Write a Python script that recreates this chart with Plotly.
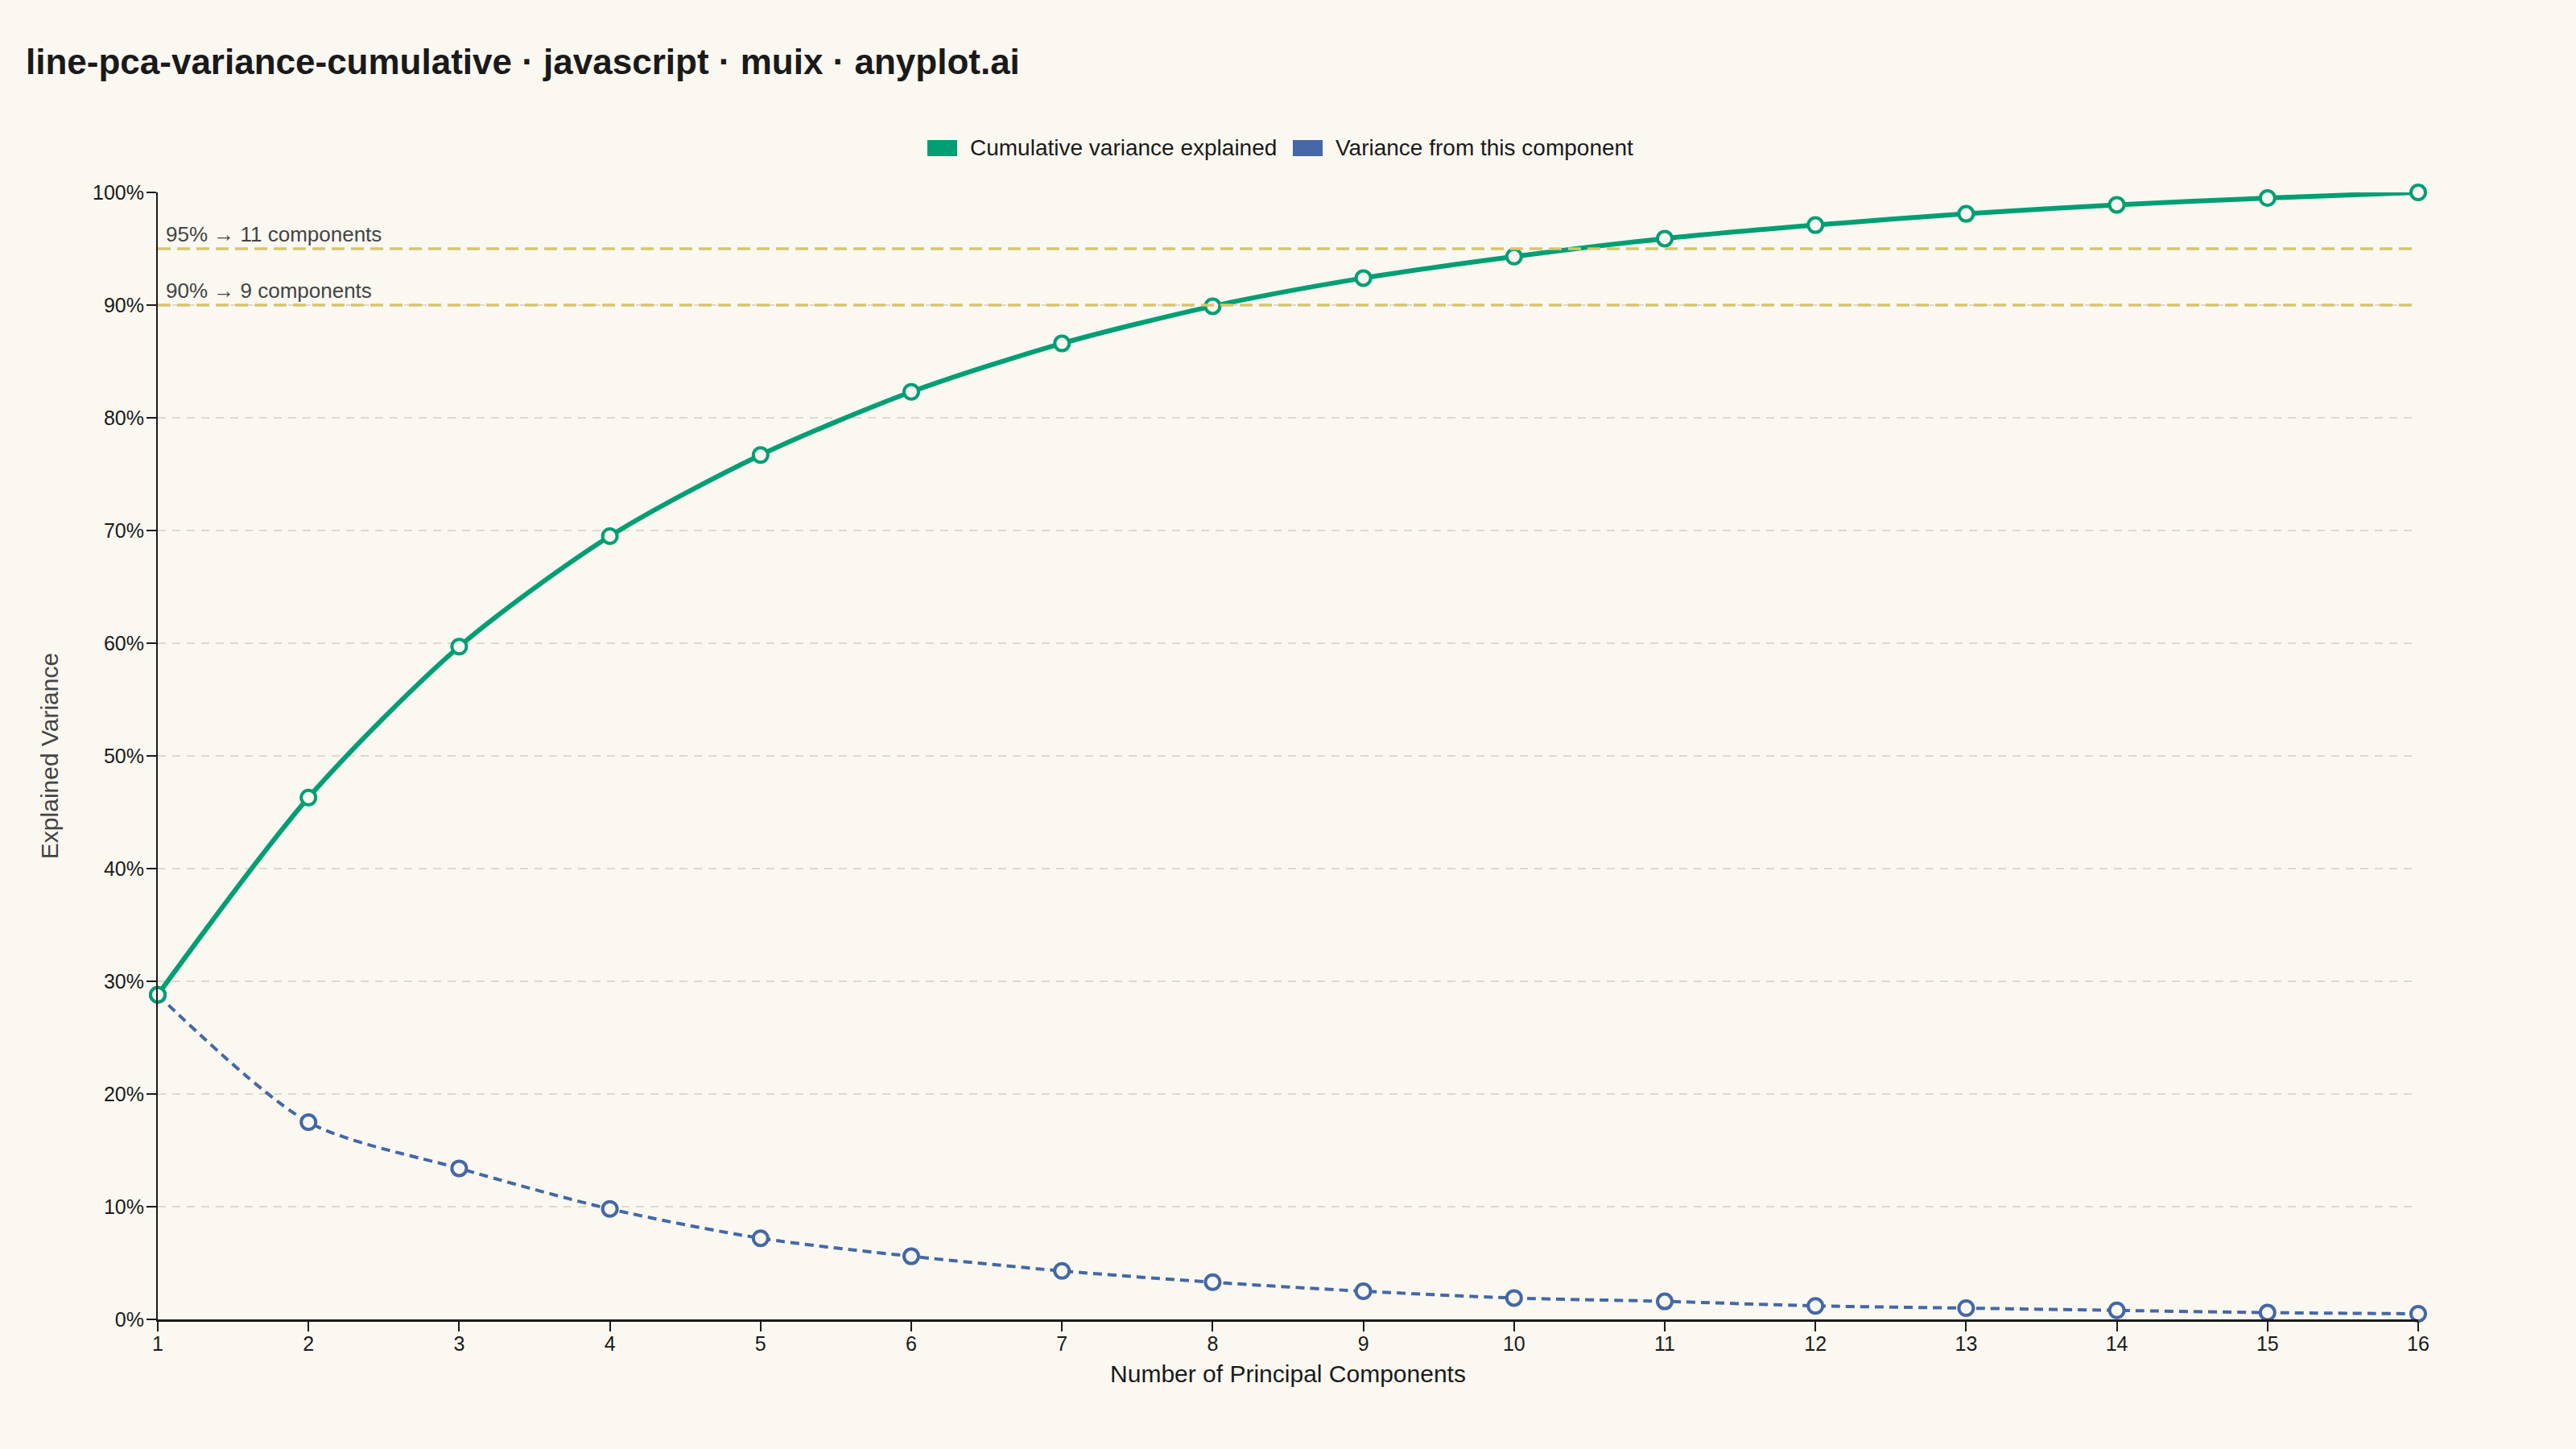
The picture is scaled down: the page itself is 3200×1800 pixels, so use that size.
import plotly.graph_objects as go

# PCA explained variance (percent)
components = list(range(1, 17))
variance_pct = [28.8, 17.5, 13.4, 9.8, 7.2, 5.6, 4.3, 3.3, 2.5, 1.9, 1.6, 1.2, 1.0, 0.8, 0.6, 0.5]
cumulative_pct = [28.8, 46.3, 59.7, 69.5, 76.7, 82.3, 86.6, 89.9, 92.4, 94.3, 95.9, 97.1, 98.1, 98.9, 99.5, 100.0]
threshold_levels = [95, 90]
threshold_labels = ["95% \u2192 11 components", "90% \u2192 9 components"]
legend_names = ["Cumulative variance explained", "Variance from this component"]
y_ticks = list(range(0, 101, 10))
y_tick_labels = [f"{v}%" for v in y_ticks]

W, H = 3200, 1800
ML, MR, MT, MB = 196, 196, 239, 161
BG = "#FAF8F1"
GREEN = "#009E73"
BLUE = "#4467A6"
GOLD = "#D9C46C"
INK = "#1a1a1a"
FONT = "Liberation Sans, Arial, sans-serif"


def px_x(p):
    # page pixel -> paper x
    return (p - ML) / (W - ML - MR)


def px_y(p):
    # page pixel -> paper y
    return 1 - (p - MT) / (H - MT - MB)


fig = go.Figure()

# threshold reference lines
for lvl, lab in zip(threshold_levels, threshold_labels):
    fig.add_shape(type="line", xref="x", yref="y", x0=components[0], x1=components[-1],
                  y0=lvl, y1=lvl, line=dict(color=GOLD, width=3.5, dash="16px,8px"))
    fig.add_annotation(x=components[0], y=lvl, xref="x", yref="y", text=lab, showarrow=False,
                       xanchor="left", yanchor="bottom", xshift=8, yshift=1,
                       font=dict(size=26, color="#444444", family=FONT))

fig.add_trace(go.Scatter(
    x=components, y=variance_pct, mode="lines+markers", name=legend_names[1],
    line=dict(color=BLUE, width=4, dash="11px,7px", shape="spline", smoothing=0.8),
    marker=dict(size=18, color=BG, line=dict(color=BLUE, width=4)),
    cliponaxis=False, showlegend=False, hovertemplate="PC %{x}: %{y:.1f}%<extra></extra>",
))
fig.add_trace(go.Scatter(
    x=components, y=cumulative_pct, mode="lines+markers", name=legend_names[0],
    line=dict(color=GREEN, width=6, shape="spline", smoothing=0.8),
    marker=dict(size=18, color=BG, line=dict(color=GREEN, width=4)),
    cliponaxis=False, showlegend=False, hovertemplate="%{x} PCs: %{y:.1f}%<extra></extra>",
))

# legend: solid rectangular swatches above the plot, centred
legend_items = [(legend_names[0], GREEN, 1152), (legend_names[1], BLUE, 1606)]
for name, col, left in legend_items:
    fig.add_shape(type="rect", xref="paper", yref="paper",
                  x0=px_x(left), x1=px_x(left + 37), y0=px_y(194), y1=px_y(174),
                  fillcolor=col, line=dict(width=0))
    fig.add_annotation(x=px_x(left + 51), y=px_y(184), xref="paper", yref="paper", text=name,
                       showarrow=False, xanchor="left", yanchor="middle",
                       font=dict(size=28, color=INK, family=FONT))

fig.update_layout(
    width=W, height=H,
    paper_bgcolor=BG, plot_bgcolor=BG,
    font=dict(family=FONT, color=INK, size=24),
    margin=dict(l=ML, r=MR, t=MT, b=MB),
    showlegend=False,
    title=dict(text="<b>line-pca-variance-cumulative \u00b7 javascript \u00b7 muix \u00b7 anyplot.ai</b>",
               x=32 / W, xanchor="left", xref="container",
               y=1 - 77 / H, yanchor="middle", yref="container",
               font=dict(size=44, color=INK, family=FONT)),
    xaxis=dict(range=[1, 16], tickvals=components, showgrid=False, zeroline=False,
               showline=True, linecolor=INK, linewidth=3,
               ticks="outside", ticklen=12, tickwidth=2, tickcolor=INK,
               tickfont=dict(size=25, color=INK), ticklabelstandoff=-6,
               title=dict(text="Number of Principal Components", standoff=14,
                          font=dict(size=30, color=INK))),
    yaxis=dict(range=[0, 100], tickvals=y_ticks, ticktext=y_tick_labels,
               showgrid=True, gridcolor="#DCD9D2", gridwidth=2, griddash="10px,8px",
               zeroline=False, showline=True, linecolor=INK, linewidth=2,
               ticks="outside", ticklen=12, tickwidth=2, tickcolor=INK,
               tickfont=dict(size=25, color=INK), ticklabelstandoff=-2,
               title=dict(text="Explained Variance", standoff=34,
                          font=dict(size=30, color="#444444"))),
)

fig.write_html("out.html", config={"displayModeBar": False},
               post_script="document.body.style.margin='0';")
